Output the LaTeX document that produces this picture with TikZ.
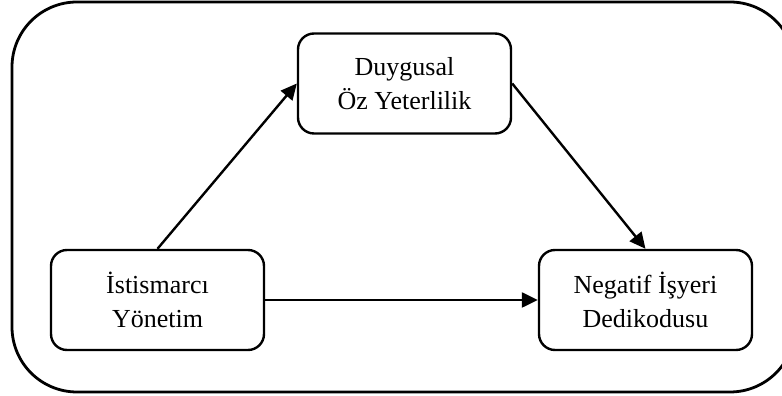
\documentclass[tikz,border=0pt]{standalone}
\usepackage{fontspec}
\setmainfont{Liberation Serif}
\usetikzlibrary{arrows.meta}
\tikzset{kutu/.style={draw,rectangle,rounded corners=16pt,line width=2.4pt,minimum width=213pt,minimum height=100pt,inner sep=0pt,align=center,font=\fontsize{26}{34}\selectfont}}
\newcommand{\degisken}[4]{\node[kutu] (#1) at (#2,#3) {#4};}
\newcommand{\etki}[2]{\draw[line width=2.4pt,-{Triangle[length=16pt,width=15pt]}] (#1) -- (#2);}

\begin{document}
\begin{tikzpicture}[x=1pt,y=1pt]
    \clip (0,0) rectangle (782,396);
    \draw[line width=2.8pt,rounded corners=65pt] (12,4) rectangle (795,394);
    \degisken{DOY}{404.5}{312.5}{Duygusal\\Öz Yeterlilik}
    \degisken{IY}{157.5}{96}{İstismarcı\\Yönetim}
    \degisken{NID}{645.5}{96}{Negatif İşyeri\\Dedikodusu}
    \etki{IY.north}{DOY.west}\etki{DOY.east}{NID.north}
    \etki{IY.east}{NID.west}
\end{tikzpicture}
\end{document}
